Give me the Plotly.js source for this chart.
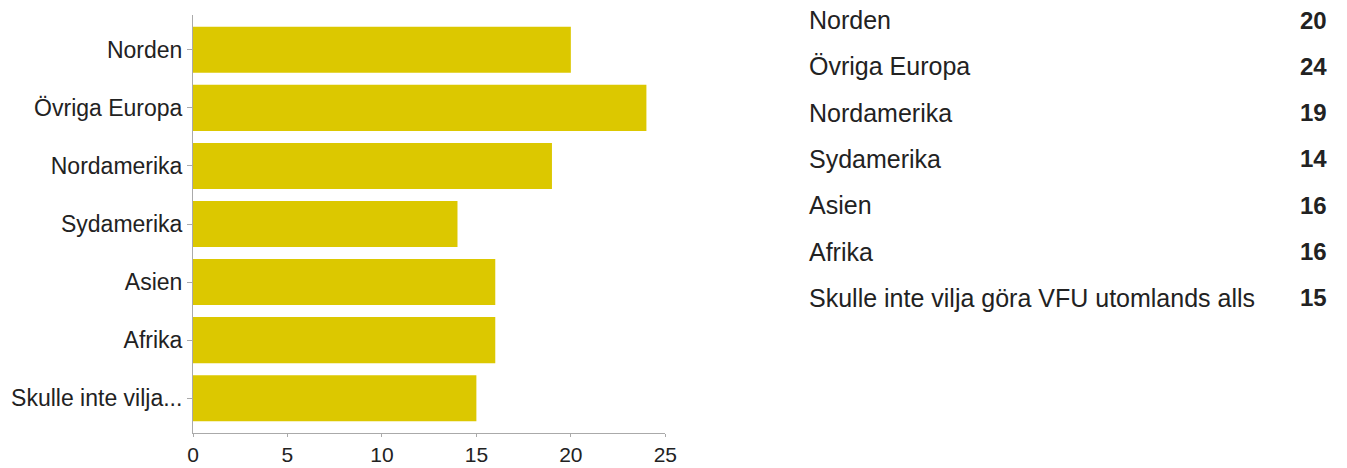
<!DOCTYPE html>
<html>
<head>
<meta charset="utf-8">
<script src="https://cdn.plot.ly/plotly-3.0.1.min.js"></script>
<style>
  html, body { margin: 0; padding: 0; background: #ffffff; }
  #chart { width: 1347px; height: 468px; }
</style>
</head>
<body>
<div id="chart"></div>
<script>
// ---- data ----
const categories = [
  "Norden",
  "Övriga Europa",
  "Nordamerika",
  "Sydamerika",
  "Asien",
  "Afrika",
  "Skulle inte vilja göra VFU utomlands alls"
];
const tickLabels = [
  "Norden",
  "Övriga Europa",
  "Nordamerika",
  "Sydamerika",
  "Asien",
  "Afrika",
  "Skulle inte vilja..."
];
const counts = [20, 24, 19, 14, 16, 16, 15];
const xTicks = [0, 5, 10, 15, 20, 25];

// ---- layout geometry (pixels) ----
const W = 1347, H = 468;
const M = { l: 193, r: 19, t: 15, b: 35 };
const plotW = W - M.l - M.r;
const plotH = H - M.t - M.b;
const xDomainEnd = 472.3 / plotW;
const font = "'Liberation Sans', Arial, sans-serif";
const barColor = "#dcc800";

// table annotations (built from the data arrays)
const rowTop = 20, rowStep = 46.3;
const nameX = (807 - M.l) / plotW;
const valX = (1329 - M.l) / plotW;
const annotations = [];
categories.forEach((c, i) => {
  const py = rowTop + i * rowStep;
  const yp = (H - M.b - py) / plotH;
  annotations.push({
    xref: "paper", yref: "paper", x: nameX, y: yp,
    xanchor: "left", yanchor: "middle", showarrow: false,
    text: c, font: { family: font, size: 25, color: "#222222" }
  });
  annotations.push({
    xref: "paper", yref: "paper", x: valX, y: yp,
    xanchor: "right", yanchor: "middle", showarrow: false,
    text: "<b>" + counts[i] + "</b>", font: { family: font, size: 24, color: "#222222" }
  });
});

const trace = {
  type: "bar",
  orientation: "h",
  x: counts,
  y: categories,
  marker: { color: barColor, line: { width: 0 } },
  hoverinfo: "x+y"
};

const layout = {
  width: W, height: H,
  margin: M,
  paper_bgcolor: "#ffffff",
  plot_bgcolor: "#ffffff",
  showlegend: false,
  bargap: 0.207,
  font: { family: font, size: 23, color: "#222222" },
  xaxis: {
    domain: [0, xDomainEnd],
    range: [0, 25],
    tickmode: "array",
    tickvals: xTicks,
    ticktext: xTicks.map(String),
    showgrid: false,
    zeroline: false,
    showline: true,
    linecolor: "#aaaaaa",
    linewidth: 1,
    ticks: "outside",
    ticklen: 3,
    tickcolor: "#aaaaaa",
    tickfont: { family: font, size: 21, color: "#222222" }
  },
  yaxis: {
    type: "category",
    range: [6.6, -0.6],
    tickmode: "array",
    tickvals: categories,
    ticktext: tickLabels,
    showgrid: false,
    zeroline: false,
    showline: true,
    linecolor: "#aaaaaa",
    linewidth: 1,
    ticks: "outside",
    ticklen: 5,
    tickcolor: "#aaaaaa",
    tickfont: { family: font, size: 23, color: "#222222" }
  },
  annotations: annotations
};

Plotly.newPlot("chart", [trace], layout, { displayModeBar: false, staticPlot: true });
</script>
</body>
</html>
